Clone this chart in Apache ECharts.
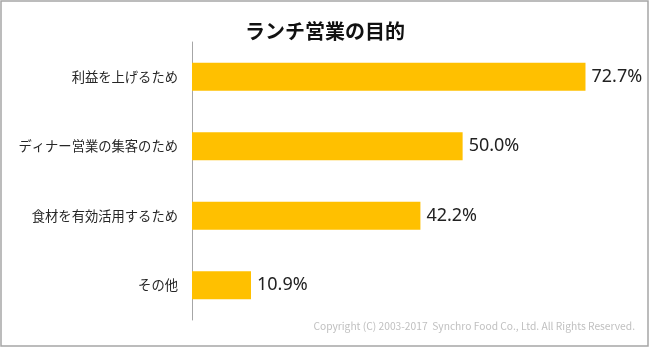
<!DOCTYPE html>
<html>
<head>
<meta charset="utf-8">
<script src="https://cdn.jsdelivr.net/npm/echarts@6/dist/echarts.min.js"></script>
<style>html,body{margin:0;padding:0;background:#fff}#c{width:650px;height:348px}</style>
</head>
<body>
<div id="c"></div>
<script>
const titleText = 'ランチ営業の目的';
const categories = ['利益を上げるため', 'ディナー営業の集客のため', '食材を有効活用するため', 'その他'];
const values = [72.7, 50.0, 42.2, 10.9];
const copyrightText = 'Copyright (C) 2003-2017  Synchro Food Co., Ltd. All Rights Reserved.';

const chart = echarts.init(document.getElementById('c'), null, {renderer: 'canvas'});
chart.setOption({
  backgroundColor: '#ffffff',
  animation: false,
  title: {
    text: titleText,
    left: 'center',
    top: 16,
    textStyle: {fontFamily: 'Noto Sans CJK JP', fontWeight: 'bold', fontSize: 20, color: '#111'}
  },
  grid: {left: 192, right: 25, top: 42, bottom: 28, containLabel: false},
  xAxis: {
    type: 'value', min: 0, max: 80,
    axisLine: {show: false}, axisTick: {show: false}, axisLabel: {show: false}, splitLine: {show: false}
  },
  yAxis: {
    type: 'category', data: categories, inverse: true,
    axisLine: {show: true, lineStyle: {color: '#A6A6A6', width: 1}},
    axisTick: {show: false},
    axisLabel: {margin: 14, fontFamily: 'Noto Sans CJK JP', fontSize: 13.3, color: '#262626'}
  },
  series: [{
    type: 'bar', data: values, barWidth: '40%',
    itemStyle: {color: '#FFC000'},
    label: {
      show: true, position: 'right', distance: 6,
      formatter: p => p.value.toFixed(1) + '%',
      fontFamily: 'Noto Sans', fontSize: 18, color: '#222'
    }
  }],
  graphic: [
    {type: 'rect', shape: {x: 1, y: 1, width: 647, height: 345}, style: {fill: 'none', stroke: '#A6A6A6', lineWidth: 1.5}, silent: true},
    {type: 'text', right: 15, top: 321, style: {text: copyrightText, fontFamily: 'Noto Sans CJK JP', fontSize: 10.25, fill: '#C0C0C0'}}
  ]
});
</script>
</body>
</html>
